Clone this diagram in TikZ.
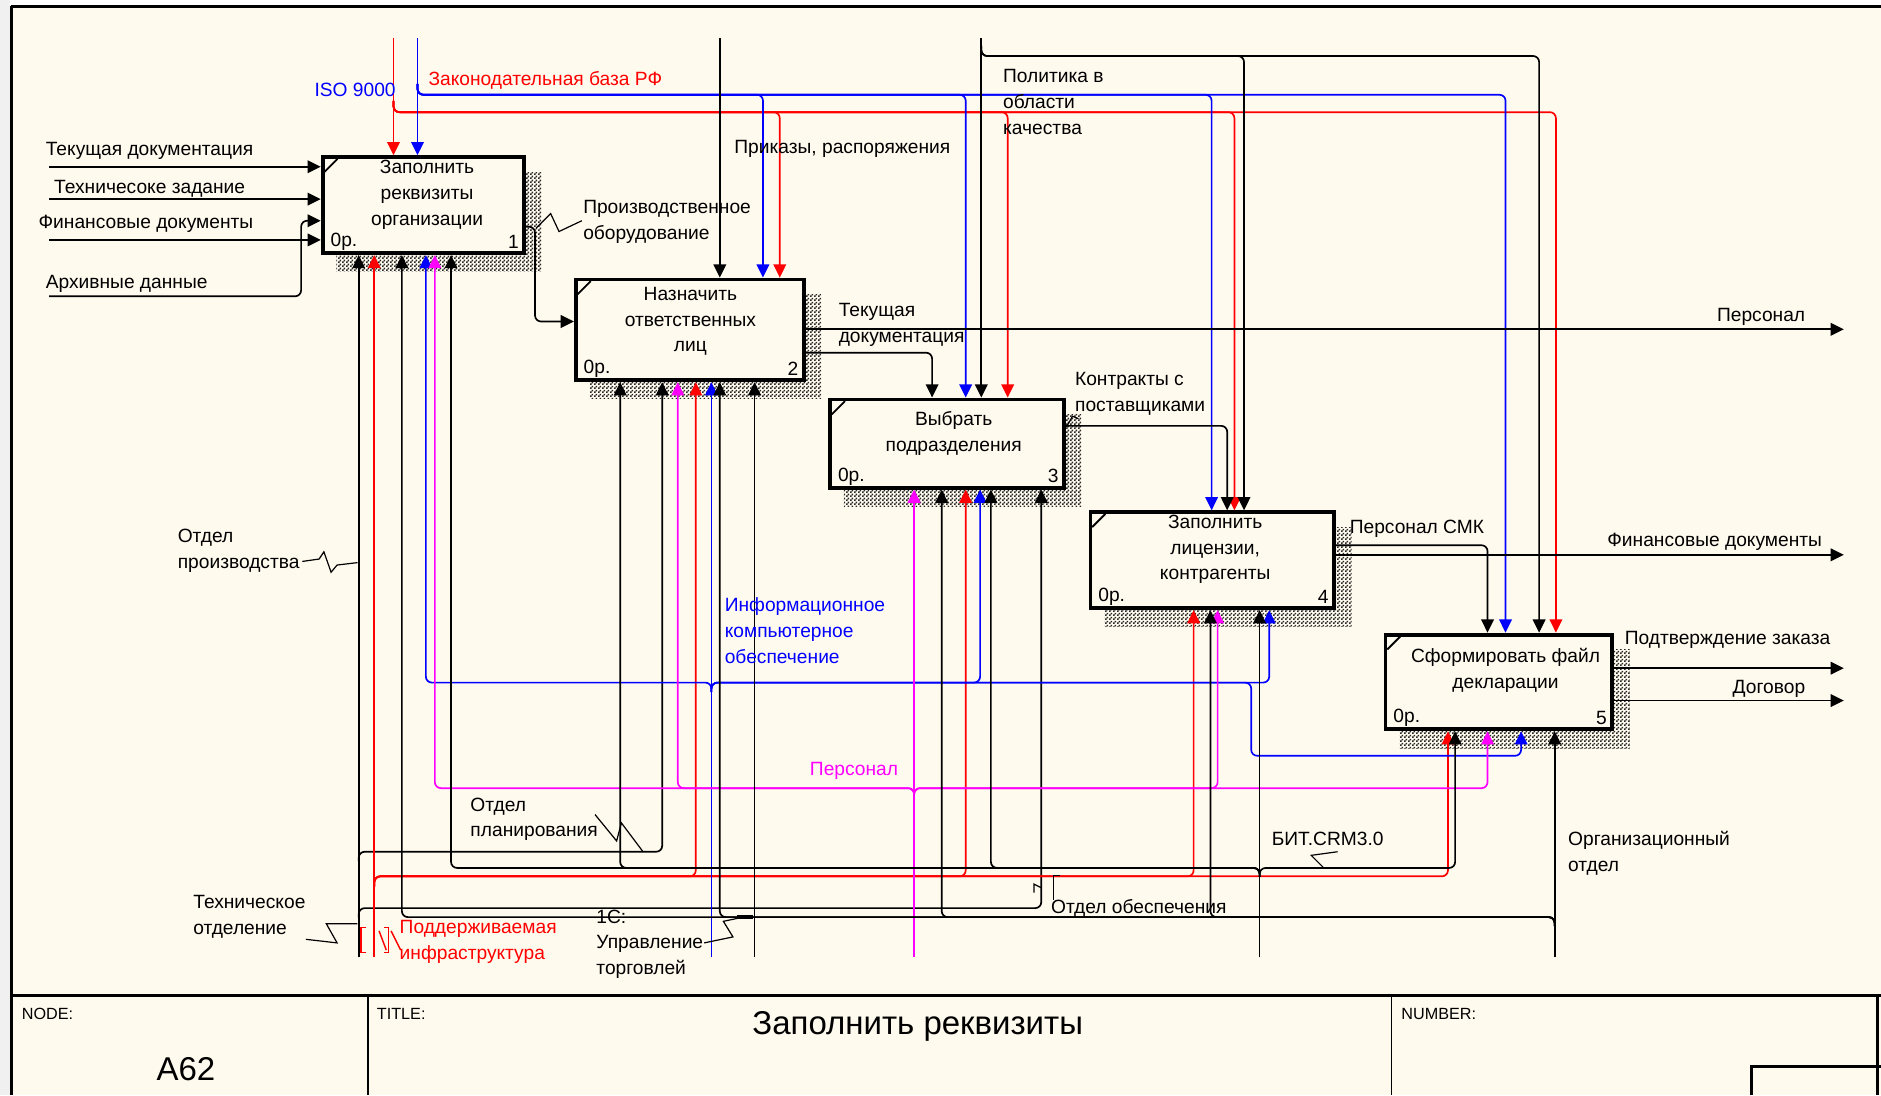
\documentclass[tikz,border=0pt]{standalone}
\usepackage{fontspec}
\setmainfont{Liberation Sans}
\usetikzlibrary{arrows.meta,patterns,calc}

\definecolor{paper}{RGB}{255,250,238}
\definecolor{idefred}{RGB}{255,0,0}
\definecolor{idefblue}{RGB}{0,0,255}
\definecolor{idefmag}{RGB}{255,0,255}

% checker used for the box shadows
\pgfdeclarepatternformonly{chk}{\pgfqpoint{0pt}{0pt}}{\pgfqpoint{3pt}{3pt}}{\pgfqpoint{3pt}{3pt}}{%
  \pgfpathrectangle{\pgfqpoint{0pt}{0pt}}{\pgfqpoint{1.5pt}{1.5pt}}%
  \pgfpathrectangle{\pgfqpoint{1.5pt}{1.5pt}}{\pgfqpoint{1.5pt}{1.5pt}}%
  \pgfusepath{fill}}

\pgfdeclarelayer{back}
\pgfdeclarelayer{shade}
\pgfsetlayers{back,shade,main}

\begin{document}
\begin{tikzpicture}[x=1pt,y=-1pt,
  lab/.style={font=\fontsize{16}{21.5}\selectfont, inner sep=0pt, anchor=west, align=left},
  boxtxt/.style={font=\fontsize{16}{21.5}\selectfont, inner sep=0pt, align=center},
  box/.style={draw, line width=3.2pt, fill=paper, inner sep=0pt},
  con/.style={line width=1.4pt, rounded corners=5pt},
  kl/.style={con, draw=black},
  rl/.style={con, draw=idefred},
  bl/.style={con, draw=idefblue},
  ml/.style={con, draw=idefmag},
  arr/.style={-{Triangle[length=11pt,width=10.5pt]}},
  squig/.style={line width=1pt, draw=black},
  small/.style={font=\fontsize{13.5}{15}\selectfont, inner sep=0pt, anchor=west}
]
\useasboundingbox (0,0) rectangle (1568,913);

% sheet and frame
\begin{pgfonlayer}{back}
  \fill[white] (0,0) rectangle (1568,913);
  \fill[black!6] (0,0) rectangle (8,913);
  \fill[paper] (9,5) rectangle (1568,913);
  \draw[line width=2pt] (9,5.5) -- (1568,5.5);
  \draw[line width=2pt] (9.5,5) -- (9.5,913);
  \draw[line width=2pt] (9,830) -- (1568,830);
  \draw[line width=1.5pt] (307,830) -- (307,913);
  \draw[line width=1.5pt] (1160,830) -- (1160,913);
  \draw[line width=2pt] (1460,913) -- (1460,889) -- (1568,889);
  \draw[line width=2pt] (1565,830) -- (1565,913);
\end{pgfonlayer}

% activity boxes
\node[box, minimum width=168, minimum height=80] (b1) at (353,171) {};
\node[box, minimum width=190, minimum height=84] (b2) at (575,275) {};
\node[box, minimum width=195, minimum height=73.5] (b3) at (789.5,369.75) {};
\node[box, minimum width=203, minimum height=80] (b4) at (1010.5,467) {};
\node[box, minimum width=189, minimum height=79] (b5) at (1249.5,568.5) {};

\begin{pgfonlayer}{shade}
  \foreach \b in {b1,b2,b3,b4,b5}
    \fill[pattern=chk, pattern color=black!85] ($(\b.north west)+(13,14)$) rectangle ($(\b.south east)+(13,14)$);
\end{pgfonlayer}

\foreach \b in {b1,b2,b3,b4,b5}
  \draw[line width=1.5pt] ($(\b.north west)+(3,14)$) -- ($(\b.north west)+(14,3)$);

\node[boxtxt] (t1) at (356,162.5) {Заполнить\\реквизиты\\организации};
\node[boxtxt] (t2) at (575.5,268) {Назначить\\ответственных\\лиц};
\node[boxtxt] (t3) at (795,361) {Выбрать\\подразделения};
\node[boxtxt] (t4) at (1013,458) {Заполнить\\лицензии,\\контрагенты};
\node[boxtxt] (t5) at (1255,559) {Сформировать файл\\декларации};

\foreach \b/\n in {b1/1,b2/2,b3/3,b4/4,b5/5}{
  \node[lab] (\b o) at ($(\b.south west)+(8,-11)$) {0р.};
  \node[lab, anchor=east] (\b n) at ($(\b.south east)+(-6,-11)$) {\n};
}

% controls from above
\draw[rl,arr] (328,32) -- (328,0 |- b1.north);
\draw[rl,arr] (328,84) |- (650,93.5) -- (650,0 |- b2.north);
\draw[rl,arr] (328,84) |- (840,93.5) -- (840,0 |- b3.north);
\draw[rl,arr] (328,84) |- (1029,93.5) -- (1029,0 |- b4.north);
\draw[rl,arr] (328,84) |- (1297,93.5) -- (1297,0 |- b5.north);

\draw[bl,arr] (348,32) -- (348,0 |- b1.north);
\draw[bl,arr] (348,70) |- (636,79) -- (636,0 |- b2.north);
\draw[bl,arr] (348,70) |- (805,79) -- (805,0 |- b3.north);
\draw[bl,arr] (348,70) |- (1010,79) -- (1010,0 |- b4.north);
\draw[bl,arr] (348,70) |- (1255,79) -- (1255,0 |- b5.north);

\draw[kl,arr] (600,32) -- (600,0 |- b2.north);
\draw[kl,arr] (818,32) -- (818,0 |- b3.north);
\draw[kl,arr] (818,38) |- (1037,46.7) -- (1037,0 |- b4.north);
\draw[kl,arr] (818,38) |- (1283,46.7) -- (1283,0 |- b5.north);

% inputs from the left
\draw[kl,arr] (41,139) -- (b1.west |- 0,139);
\draw[kl,arr] (41,166) -- (b1.west |- 0,166);
\draw[kl,arr] (41,200) -- (b1.west |- 0,200);
\draw[kl,arr] (41,247) -| (251,184) -- (b1.west |- 0,184);

% outputs
\draw[kl,arr] (b1.east |- 0,189) -| (446,268) -- (b2.west |- 0,268);
\draw[kl,arr] (b2.east |- 0,274.5) -- (1537,274.5);
\draw[kl,arr] (b2.east |- 0,294) -| (777,0 |- b3.north);
\draw[kl,arr] (b3.east |- 0,355) -| (1023,0 |- b4.north);
\draw[kl,arr] (b4.east |- 0,454.5) -| (1240,0 |- b5.north);
\draw[kl,arr] (b4.east |- 0,462.5) -- (1537,462.5);
\draw[kl,arr] (b5.east |- 0,557) -- (1537,557);
\draw[kl,arr] (b5.east |- 0,584) -- (1537,584);

% mechanisms from below
\draw[kl,arr] (299,798) -- (299,0 |- b1.south);
\draw[kl,arr] (299,718) |- (552,710) -- (552,0 |- b2.south);
\draw[kl,arr] (299,765) |- (868,757) -- (868,0 |- b3.south);

\draw[rl,arr] (312,798) -- (312,0 |- b1.south);
\draw[rl,arr] (312,739) |- (580,730.5) -- (580,0 |- b2.south);
\draw[rl,arr] (312,739) |- (805,730.5) -- (805,0 |- b3.south);
\draw[rl,arr] (312,739) |- (995,730.5) -- (995,0 |- b4.south);
\draw[rl,arr] (312,739) |- (1207,730.5) -- (1207,0 |- b5.south);

\draw[bl,arr] (593,798) -- (593,0 |- b2.south);
\draw[bl,arr] (593,577) |- (355,569) -- (355,0 |- b1.south);
\draw[bl,arr] (593,577) |- (817,569) -- (817,0 |- b3.south);
\draw[bl,arr] (593,577) |- (1058,569) -- (1058,0 |- b4.south);
\draw[bl,arr] (593,577) |- (1043,569) |- (1268,630) -- (1268,0 |- b5.south);

\draw[ml,arr] (762,798) -- (762,0 |- b3.south);
\draw[ml,arr] (762,665) |- (362.5,657) -- (362.5,0 |- b1.south);
\draw[ml,arr] (762,665) |- (565,657) -- (565,0 |- b2.south);
\draw[ml,arr] (762,665) |- (1015,657) -- (1015,0 |- b4.south);
\draw[ml,arr] (762,665) |- (1240,657) -- (1240,0 |- b5.south);

\draw[kl,arr] (1050,798) -- (1050,0 |- b4.south);
\draw[kl,arr] (1050,731) |- (376,723.5) -- (376,0 |- b1.south);
\draw[kl,arr] (1050,731) |- (517,723.5) -- (517,0 |- b2.south);
\draw[kl,arr] (1050,731) |- (826,723.5) -- (826,0 |- b3.south);
\draw[kl,arr] (1050,731) |- (1213,723.5) -- (1213,0 |- b5.south);

\draw[kl,arr] (1296,798) -- (1296,0 |- b5.south);
\draw[kl,arr] (1296,772) |- (335,764.5) -- (335,0 |- b1.south);
\draw[kl,arr] (1296,772) |- (600,764.5) -- (600,0 |- b2.south);
\draw[kl,arr] (1296,772) |- (785,764.5) -- (785,0 |- b3.south);
\draw[kl,arr] (1296,772) |- (1009,764.5) -- (1009,0 |- b4.south);

\draw[kl,arr] (629,798) -- (629,0 |- b2.south);

% labels
\node[lab] (l1) at (38,126) {Текущая документация};
\node[lab] (l2) at (45,157) {Техничесоке задание};
\node[lab] (l3) at (32,187) {Финансовые документы};
\node[lab] (l4) at (38,237) {Архивные данные};
\node[lab, text=idefblue] (l5) at (262,75) {ISO 9000};
\node[lab, text=idefred] (l6) at (357,67) {Законодательная база РФ};
\node[lab] (l7) at (612,124) {Приказы, распоряжения};
\node[lab] (l8) at (836,85) {Политика в\\области\\качества};
\node[lab] (l9) at (486,185) {Производственное\\оборудование};
\node[lab] (l10) at (699,270.5) {Текущая\\документация};
\node[lab, anchor=east] (l11) at (1505,264) {Персонал};
\node[lab] (l12) at (896,328.5) {Контракты с\\поставщиками};
\node[lab] (l13) at (1125,441) {Персонал СМК};
\node[lab, anchor=east] (l14) at (1519,452) {Финансовые документы};
\node[lab, anchor=east] (l15) at (1526,533) {Подтверждение заказа};
\node[lab, anchor=east] (l16) at (1505,574) {Договор};
\node[lab, text=idefblue] (l17) at (604,525.5) {Информационное\\компьютерное\\обеспечение};
\node[lab, text=idefmag] (l18) at (675,643) {Персонал};
\node[lab] (l19) at (148,459) {Отдел\\производства};
\node[lab] (l20) at (392,683) {Отдел\\планирования};
\node[lab] (l21) at (161,764) {Техническое\\отделение};
\node[lab, text=idefred] (l22) at (333,785) {Поддерживаемая\\инфраструктура};
\node[lab] (l23) at (497,787) {1С:\\Управление\\торговлей};
\node[lab] (l24) at (876,757) {Отдел обеспечения};
\node[lab] (l25) at (1060,699) {БИТ.CRM3.0};
\node[lab] (l26) at (1307,711) {Организационный\\отдел};

% label leaders
\draw[squig] (252,468) -- (266,466) -- (270,460) -- (276,477) -- (281,471) -- (298,469);
\draw[squig] (447,190) -- (459,178) -- (466,193) -- (485,184);
\draw[squig] (496,679) -- (514,701) -- (518,686) -- (536,710);
\draw[squig] (255,783) -- (281,786) -- (272,770) -- (298,770);
\draw[squig] (587,786) -- (611,781) -- (603,768) -- (622,764);
\draw[line width=3pt] (614,764.5) -- (628,764.5);
\draw[squig] (878,750) -- (878,730) -- (884,730);
\draw[squig] (868,740) -- (862,737) -- (862,744);
\draw[squig] (1115,710) -- (1093,713) -- (1103,723);
\draw[squig] (889,356) -- (894,347) -- (899,349);
\draw[line width=1.2pt, idefred] (305,773) -- (301,773) -- (301,794) -- (305,794);
\draw[line width=1.2pt, idefred] (320,773) -- (324,773) -- (324,794) -- (320,794);
\draw[line width=1.2pt, idefred] (316,776) -- (322,792);
\draw[line width=1.2pt, idefred] (326,776) -- (334,792);

% title block
\node[small] (nd) at (18,845) {NODE:};
\node[font=\fontsize{27.5}{30}\selectfont, inner sep=0pt] (nn) at (155,891) {A62};
\node[small] (tt) at (314,845) {TITLE:};
\node[font=\fontsize{27.5}{30}\selectfont, inner sep=0pt] (tn) at (765,856) {Заполнить реквизиты};
\node[small] (nb) at (1168,845) {NUMBER:};
\end{tikzpicture}
\end{document}
